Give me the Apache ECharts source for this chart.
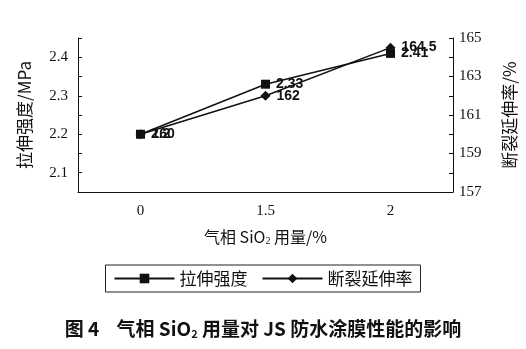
<!DOCTYPE html>
<html><head><meta charset="utf-8">
<script src="https://cdn.jsdelivr.net/npm/echarts@6/dist/echarts.min.js"></script>
<style>html,body{margin:0;padding:0;background:#fff}#c{width:526px;height:349px}</style>
</head><body><div id="c"></div>
<script>
var categories = ['0', '1.5', '2'];
var tensile = [2.2, 2.33, 2.41];
var elongation = [160, 162, 164.5];
var seriesNames = ['拉伸强度', '断裂延伸率'];

var serif = 'Liberation Serif';
var cjk = 'Noto Sans CJK SC';
var chart = echarts.init(document.getElementById('c'));
chart.setOption({
  animation: false,
  backgroundColor: '#fff',
  title: {
    text: '图 4    气相 SiO{sub|2} 用量对 JS 防水涂膜性能的影响',
    left: 'center', top: 314,
    textStyle: {
      fontFamily: cjk, fontWeight: 'bold', fontSize: 19, color: '#111',
      rich: { sub: { fontSize: 11, fontWeight: 'bold', fontFamily: cjk, verticalAlign: 'bottom', padding: [9, 0, 0, 0], color: '#111' } }
    }
  },
  legend: {
    data: seriesNames,
    left: 'center', top: 265,
    itemWidth: 60, itemHeight: 12, itemGap: 14,
    padding: [5, 8, 5, 8],
    borderColor: '#222', borderWidth: 1, borderRadius: 0,
    textStyle: { fontFamily: cjk, fontSize: 17, color: '#111' }
  },
  grid: { left: 78, right: 71, top: 38, bottom: 157 },
  xAxis: {
    type: 'category', data: categories, boundaryGap: true,
    name: '气相 SiO{sub|2} 用量/%', nameLocation: 'middle', nameGap: 36,
    nameTextStyle: {
      fontFamily: cjk, fontSize: 16, color: '#111',
      rich: { sub: { fontSize: 10, fontFamily: serif, verticalAlign: 'bottom', padding: [8, 0, 0, 0], color: '#111' } }
    },
    axisLine: { lineStyle: { color: '#111', width: 1 } },
    axisTick: { inside: true, length: 4, lineStyle: { color: '#111' } },
    axisLabel: { fontFamily: serif, fontSize: 15, color: '#111', margin: 12 },
    splitLine: { show: false }
  },
  yAxis: [
    {
      type: 'value', min: 2.05, max: 2.45, interval: 0.05,
      name: '拉伸强度/MPa', nameLocation: 'middle', nameGap: 45,
      nameTextStyle: { fontFamily: cjk, fontSize: 17, color: '#111' },
      axisLine: { show: true, lineStyle: { color: '#111', width: 1 } },
      axisTick: { show: true, inside: true, length: 4, lineStyle: { color: '#111' } },
      axisLabel: {
        fontFamily: serif, fontSize: 15, color: '#111', margin: 10,
        formatter: function (v) { var n = Math.round(v * 100); return (n % 10 === 0) ? (n / 100).toFixed(1) : ''; }
      },
      splitLine: { show: false }
    },
    {
      type: 'value', min: 157, max: 165, interval: 1, position: 'right',
      name: '断裂延伸率/%', nameLocation: 'middle', nameGap: 48,
      nameTextStyle: { fontFamily: cjk, fontSize: 17, color: '#111' },
      axisLine: { show: true, lineStyle: { color: '#111', width: 1 } },
      axisTick: { show: true, inside: true, length: 4, lineStyle: { color: '#111' } },
      axisLabel: {
        fontFamily: serif, fontSize: 15, color: '#111', margin: 6,
        formatter: function (v) { return (Math.round(v) % 2 === 1) ? String(v) : ''; }
      },
      splitLine: { show: false }
    }
  ],
  series: [
    {
      name: seriesNames[0], type: 'line', yAxisIndex: 0, data: tensile,
      symbol: 'rect', symbolSize: 9,
      lineStyle: { color: '#111', width: 1.5 },
      itemStyle: { color: '#111' },
      label: { show: true, position: 'right', distance: 6, fontFamily: 'Liberation Sans', fontWeight: 'bold', fontSize: 14, color: '#111' }
    },
    {
      name: seriesNames[1], type: 'line', yAxisIndex: 1, data: elongation,
      symbol: 'diamond', symbolSize: 10,
      lineStyle: { color: '#111', width: 1.5 },
      itemStyle: { color: '#111' },
      label: { show: true, position: 'right', distance: 6, fontFamily: 'Liberation Sans', fontWeight: 'bold', fontSize: 14, color: '#111' }
    }
  ]
});
</script></body></html>
